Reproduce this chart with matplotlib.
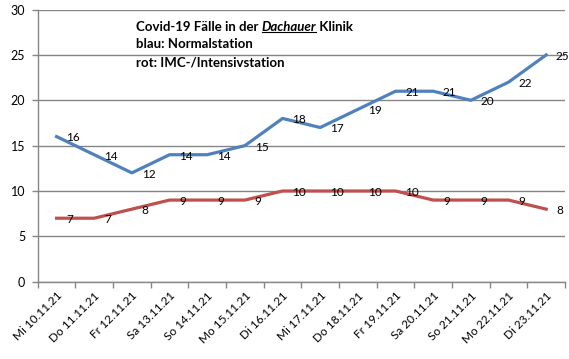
import matplotlib
matplotlib.use("Agg")
import matplotlib.pyplot as plt
from matplotlib.lines import Line2D

# Data
days = ['Mi 10.11.21', 'Do 11.11.21', 'Fr 12.11.21', 'Sa 13.11.21', 'So 14.11.21',
        'Mo 15.11.21', 'Di 16.11.21', 'Mi 17.11.21', 'Do 18.11.21', 'Fr 19.11.21',
        'Sa 20.11.21', 'So 21.11.21', 'Mo 22.11.21', 'Di 23.11.21']
normal = [16, 14, 12, 14, 14, 15, 18, 17, 19, 21, 21, 20, 22, 25]
intensive = [7, 7, 8, 9, 9, 9, 10, 10, 10, 10, 9, 9, 9, 8]
y_ticks = [0, 5, 10, 15, 20, 25, 30]

plt.rcParams['font.family'] = ['Lato', 'DejaVu Sans']

fig = plt.figure(figsize=(5.69, 3.59), dpi=100)
ax = fig.add_axes([0.0663, 0.2153, 0.9267, 0.758])

x = list(range(len(days)))
ax.plot(x, normal, color='#4F81BD', lw=2.3, solid_joinstyle='round')
ax.plot(x, intensive, color='#C0504D', lw=2.3, solid_joinstyle='round')

for xi, v in zip(x, normal):
    ax.annotate(str(v), (xi, v), xytext=(7, -1), textcoords='offset points',
                ha='left', va='center', fontsize=8.5, color='black')
for xi, v in zip(x, intensive):
    ax.annotate(str(v), (xi, v), xytext=(7, -1), textcoords='offset points',
                ha='left', va='center', fontsize=8.5, color='black')

ax.set_xlim(-0.5, len(days) - 0.5)
ax.set_ylim(0, 30)
ax.set_yticks(y_ticks)
ax.set_xticks([i - 0.5 for i in range(len(days) + 1)], minor=False)
ax.set_xticklabels([])
ax.set_xticks(x, minor=True)
ax.set_xticklabels(days, minor=True, rotation=45, ha='right', rotation_mode='anchor',
                   fontsize=8.5)
ax.tick_params(axis='x', which='minor', length=0, pad=6)
ax.tick_params(axis='x', which='major', length=4, width=1, color='#868686', direction='out')
ax.tick_params(axis='y', length=4, width=1, color='#868686', direction='out', labelsize=9, pad=5)

ax.grid(axis='y', color='#868686', lw=1)
ax.set_axisbelow(True)
for s in ['top', 'right']:
    ax.spines[s].set_visible(False)
for s in ['left', 'bottom']:
    ax.spines[s].set_color('#868686')
    ax.spines[s].set_linewidth(1)

# Title block with underlined italic word
fs = 9.5
t1 = fig.text(0.239, 0.925, 'Covid-19 Fälle in der ', fontsize=fs, fontweight='bold', va='center')
fig.canvas.draw()
r = fig.canvas.get_renderer()
bb1 = t1.get_window_extent(r)
x2 = bb1.x1 / fig.bbox.width
t2 = fig.text(x2, 0.925, 'Dachauer', fontsize=fs, fontweight='bold', style='italic', va='center')
fig.canvas.draw()
bb2 = t2.get_window_extent(r)
x3 = bb2.x1 / fig.bbox.width
fig.text(x3, 0.925, ' Klinik', fontsize=fs, fontweight='bold', va='center')
uy = (bb2.y0 + 1) / fig.bbox.height
fig.add_artist(Line2D([x2, x3], [uy, uy], color='black', lw=0.8, transform=fig.transFigure))
fig.text(0.239, 0.877, 'blau: Normalstation', fontsize=fs, fontweight='bold', va='center')
fig.text(0.239, 0.827, 'rot: IMC-/Intensivstation', fontsize=fs, fontweight='bold', va='center')

fig.savefig('out.png', dpi=100, facecolor='white')
